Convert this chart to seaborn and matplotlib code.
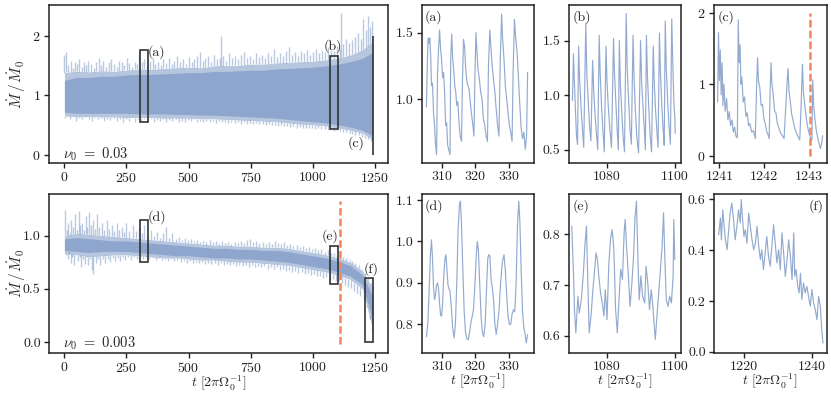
import numpy as np
import seaborn as sns
import matplotlib.pyplot as plt
from matplotlib.patches import Rectangle

# ---------------- main panels: band ----------------
band_t = [0, 50, 100, 150, 200, 250, 300, 350, 400, 450, 500, 550, 600,
          650, 700, 750, 800, 850, 900, 950, 1000, 1050, 1100, 1150, 1200, 1243]

top_core_hi = [1.25, 1.30, 1.30, 1.32, 1.32, 1.34, 1.35, 1.35, 1.36, 1.37, 1.38, 1.38, 1.40,
               1.40, 1.41, 1.42, 1.42, 1.44, 1.45, 1.46, 1.47, 1.49, 1.52, 1.56, 1.62, 1.72]
top_core_lo = [0.72, 0.70, 0.70, 0.70, 0.70, 0.70, 0.69, 0.69, 0.69, 0.68, 0.68, 0.67, 0.67,
               0.66, 0.65, 0.64, 0.63, 0.62, 0.60, 0.58, 0.56, 0.54, 0.51, 0.47, 0.42, 0.32]
top_out_hi = [1.38, 1.40, 1.39, 1.41, 1.40, 1.42, 1.44, 1.43, 1.45, 1.46, 1.47, 1.46, 1.49,
              1.50, 1.50, 1.52, 1.52, 1.54, 1.55, 1.56, 1.57, 1.59, 1.62, 1.67, 1.76, 1.90]
top_out_lo = [0.66, 0.64, 0.65, 0.64, 0.64, 0.63, 0.63, 0.63, 0.62, 0.62, 0.62, 0.61, 0.61,
              0.60, 0.59, 0.58, 0.57, 0.56, 0.54, 0.52, 0.51, 0.49, 0.46, 0.42, 0.37, 0.26]

top_spikes = [(0, 1.68), (8, 1.72), (16, 1.50), (25, 1.58), (33, 1.46), (42, 1.55), (50, 1.52),
              (60, 1.60), (70, 1.48), (78, 1.56), (88, 1.50), (97, 1.58), (108, 1.52), (118, 1.46),
              (127, 1.56), (138, 1.62), (148, 1.50), (157, 1.58), (168, 1.47), (178, 1.55),
              (188, 1.60), (198, 1.52), (210, 1.48), (220, 1.58), (230, 1.55), (242, 1.50),
              (252, 1.62), (262, 1.54), (272, 1.48), (283, 1.56), (293, 1.52), (302, 1.72),
              (312, 1.55), (322, 1.60), (333, 1.50), (345, 1.58), (355, 1.62), (366, 1.52),
              (376, 1.56), (388, 1.50), (398, 1.60), (410, 1.54), (420, 1.62), (432, 1.52),
              (442, 1.58), (455, 1.66), (466, 1.55), (478, 1.60), (488, 1.52), (500, 1.64),
              (512, 1.56), (522, 1.60), (535, 1.66), (546, 1.72), (558, 1.58), (568, 1.62),
              (580, 1.65), (592, 1.56), (603, 1.68), (615, 1.60), (626, 1.62), (632, 2.00),
              (640, 1.66), (652, 1.58), (664, 1.70), (676, 1.62), (688, 1.66), (700, 1.60),
              (712, 1.68), (724, 1.72), (736, 1.62), (748, 1.66), (760, 1.60), (772, 1.70),
              (784, 1.64), (796, 1.68), (808, 1.62), (820, 1.70), (832, 1.66), (845, 1.78),
              (856, 1.64), (868, 1.70), (880, 1.66), (892, 1.74), (904, 1.80), (916, 1.68),
              (928, 1.72), (940, 1.66), (952, 1.74), (964, 1.70), (976, 1.76), (988, 1.68),
              (1000, 1.72), (1012, 1.78), (1024, 1.70), (1036, 1.74), (1048, 1.72), (1060, 1.80),
              (1072, 1.76), (1084, 1.74), (1096, 1.82), (1108, 1.78), (1115, 2.38), (1122, 1.85),
              (1134, 1.95), (1146, 1.88), (1158, 1.92), (1170, 1.98), (1182, 2.05), (1194, 1.95),
              (1204, 2.28), (1214, 2.10), (1222, 2.32), (1230, 2.15), (1238, 2.25)]
top_dips = [(4, 0.62), (14, 0.66), (24, 0.60), (36, 0.64), (48, 0.58), (60, 0.62), (72, 0.60),
            (85, 0.64), (98, 0.60), (110, 0.58), (122, 0.62), (135, 0.60), (148, 0.63), (160, 0.58),
            (172, 0.61), (185, 0.59), (198, 0.63), (210, 0.58), (222, 0.61), (235, 0.56), (248, 0.60),
            (260, 0.58), (272, 0.62), (285, 0.55), (298, 0.60), (310, 0.58), (322, 0.61), (335, 0.57),
            (348, 0.60), (360, 0.56), (372, 0.59), (385, 0.57), (398, 0.60), (410, 0.55), (422, 0.59),
            (435, 0.57), (448, 0.60), (460, 0.56), (472, 0.58), (485, 0.55), (498, 0.59), (510, 0.57),
            (522, 0.60), (535, 0.56), (548, 0.58), (560, 0.55), (572, 0.58), (585, 0.56), (598, 0.57),
            (610, 0.54), (622, 0.57), (635, 0.55), (648, 0.56), (660, 0.54), (672, 0.56), (685, 0.54),
            (698, 0.55), (710, 0.53), (722, 0.55), (735, 0.53), (748, 0.54), (760, 0.52), (772, 0.54),
            (785, 0.52), (798, 0.53), (810, 0.51), (822, 0.52), (835, 0.50), (848, 0.51), (860, 0.49),
            (872, 0.50), (885, 0.48), (898, 0.49), (910, 0.47), (922, 0.48), (935, 0.46), (948, 0.47),
            (960, 0.46), (972, 0.46), (985, 0.45), (998, 0.46), (1010, 0.44), (1022, 0.45),
            (1035, 0.43), (1048, 0.44), (1060, 0.42), (1072, 0.43), (1085, 0.41), (1098, 0.42),
            (1110, 0.40), (1122, 0.39), (1135, 0.38), (1148, 0.37), (1160, 0.36), (1172, 0.34),
            (1185, 0.33), (1198, 0.31), (1210, 0.29), (1222, 0.27), (1234, 0.24)]

bot_core_hi = [0.97, 0.98, 0.97, 0.96, 0.95, 0.95, 0.94, 0.93, 0.92, 0.91, 0.90, 0.89, 0.88,
               0.88, 0.87, 0.87, 0.86, 0.86, 0.85, 0.83, 0.81, 0.79, 0.76, 0.72, 0.63, 0.42]
bot_core_lo = [0.86, 0.85, 0.84, 0.85, 0.85, 0.85, 0.84, 0.83, 0.82, 0.81, 0.81, 0.80, 0.79,
               0.79, 0.78, 0.78, 0.77, 0.76, 0.75, 0.73, 0.71, 0.69, 0.66, 0.62, 0.54, 0.20]
bot_out_hi = [1.00, 1.02, 1.01, 1.00, 0.99, 0.98, 0.97, 0.96, 0.95, 0.94, 0.93, 0.92, 0.91,
              0.91, 0.90, 0.90, 0.89, 0.89, 0.88, 0.86, 0.84, 0.82, 0.79, 0.75, 0.67, 0.50]
bot_out_lo = [0.83, 0.82, 0.80, 0.81, 0.82, 0.82, 0.81, 0.80, 0.79, 0.79, 0.78, 0.77, 0.77,
              0.76, 0.75, 0.75, 0.74, 0.73, 0.72, 0.70, 0.68, 0.66, 0.63, 0.59, 0.50, 0.10]

bot_spikes = [(3, 1.24), (10, 1.05), (16, 1.12), (22, 1.02), (28, 1.15), (36, 1.08), (44, 1.20),
              (50, 1.05), (57, 1.23), (64, 1.10), (72, 1.12), (80, 1.05), (86, 1.18), (93, 1.08),
              (100, 1.22), (108, 1.10), (116, 1.15), (124, 1.06), (131, 1.20), (140, 1.08),
              (150, 1.12), (160, 1.05), (170, 1.15), (180, 1.06), (190, 1.10), (200, 1.04),
              (210, 1.12), (220, 1.05), (230, 1.08), (240, 1.03), (250, 1.12), (262, 1.04),
              (275, 1.10), (288, 1.04), (300, 1.08), (312, 1.02), (322, 1.10), (335, 1.00),
              (348, 1.05), (360, 1.00), (372, 1.03), (385, 0.98), (398, 1.02), (410, 1.08),
              (422, 0.98), (435, 1.02), (448, 0.97), (460, 0.99), (472, 0.96), (485, 0.98),
              (498, 0.96), (510, 0.97), (522, 0.95), (535, 0.96), (548, 0.94), (560, 0.95),
              (572, 0.94), (585, 0.96), (598, 0.94), (610, 0.95), (622, 0.93), (635, 0.95),
              (648, 0.93), (660, 0.94), (672, 0.92), (685, 0.94), (698, 0.93), (710, 0.95),
              (722, 0.93), (735, 0.96), (748, 0.97), (760, 0.94), (772, 0.95), (785, 0.93),
              (798, 0.94), (810, 0.92), (822, 0.94), (835, 0.92), (848, 0.95), (860, 0.93),
              (872, 0.92), (885, 0.94), (898, 0.91), (910, 0.92), (922, 0.90), (935, 0.91),
              (948, 0.89), (960, 0.90), (972, 0.88), (985, 0.89), (998, 0.87), (1010, 0.88),
              (1022, 0.86), (1035, 0.87), (1048, 0.85), (1060, 0.86), (1072, 0.84), (1085, 0.84),
              (1098, 0.82), (1110, 0.82), (1122, 0.80), (1135, 0.79), (1148, 0.77), (1160, 0.76),
              (1172, 0.74), (1185, 0.72), (1198, 0.69), (1210, 0.65), (1222, 0.60), (1234, 0.55)]
bot_dips = [(6, 0.82), (13, 0.78), (19, 0.85), (25, 0.74), (32, 0.80), (40, 0.72), (47, 0.82),
            (54, 0.76), (61, 0.80), (68, 0.70), (76, 0.78), (83, 0.73), (90, 0.80), (97, 0.72),
            (104, 0.78), (112, 0.68), (117, 0.64), (128, 0.74), (136, 0.78), (145, 0.72),
            (155, 0.78), (165, 0.74), (175, 0.78), (185, 0.75), (195, 0.79), (205, 0.76),
            (215, 0.79), (225, 0.76), (235, 0.80), (245, 0.77), (256, 0.80), (268, 0.77),
            (280, 0.80), (294, 0.78), (306, 0.80), (318, 0.78), (330, 0.80), (342, 0.78),
            (355, 0.79), (368, 0.77), (380, 0.79), (392, 0.77), (405, 0.78), (418, 0.76),
            (430, 0.78), (442, 0.76), (455, 0.77), (468, 0.75), (480, 0.76), (492, 0.74),
            (505, 0.76), (518, 0.74), (530, 0.75), (542, 0.74), (555, 0.75), (568, 0.73),
            (580, 0.74), (592, 0.73), (605, 0.74), (618, 0.72), (630, 0.74), (642, 0.72),
            (655, 0.73), (668, 0.72), (680, 0.73), (692, 0.71), (705, 0.72), (718, 0.71),
            (730, 0.72), (742, 0.70), (755, 0.72), (768, 0.70), (780, 0.71), (792, 0.70),
            (805, 0.71), (818, 0.69), (830, 0.70), (842, 0.69), (855, 0.70), (868, 0.68),
            (880, 0.69), (892, 0.67), (905, 0.68), (918, 0.66), (930, 0.67), (942, 0.65),
            (955, 0.66), (968, 0.64), (980, 0.65), (992, 0.63), (1005, 0.64), (1018, 0.62),
            (1030, 0.62), (1042, 0.60), (1055, 0.61), (1068, 0.58), (1080, 0.59), (1092, 0.57),
            (1105, 0.57), (1118, 0.55), (1130, 0.54), (1142, 0.52), (1155, 0.51), (1168, 0.48),
            (1180, 0.46), (1192, 0.43), (1205, 0.40), (1218, 0.34), (1230, 0.25), (1240, 0.10)]

# zoom boxes on the main panels: label, t0, t1, y0, y1
top_boxes = [("(a)", 305, 335.5, 0.55, 1.75), ("(b)", 1069, 1100, 0.445, 1.65),
             ("(c)", 1241, 1243.4, 0.0, 2.0)]
bot_boxes = [("(d)", 305, 335.5, 0.755, 1.15), ("(e)", 1069, 1100, 0.547, 0.90),
             ("(f)", 1212, 1243.4, 0.0, 0.60)]

# ---------------- zoom windows ----------------
a_t = [305.5, 305.8, 306.0, 306.3, 306.5, 306.8, 307.0, 307.3, 307.6, 307.9, 308.2, 308.5,
       308.8, 309.1, 309.4, 309.7, 310.0, 310.3, 310.6, 310.9, 311.2, 311.5, 311.8, 312.5,
       312.7, 313.0, 313.3, 313.6, 313.9, 314.2, 314.5, 314.8, 315.1, 315.5, 315.9,
       316.2, 316.5, 316.8, 317.1, 317.4, 317.8, 318.1, 318.5, 318.8, 319.2, 319.6,
       319.9, 320.2, 320.5, 320.8, 321.2, 321.6, 322.0, 322.4, 322.8, 323.2, 323.6,
       323.9, 324.3, 324.6, 325.0, 325.4, 325.8, 326.2, 326.6, 327.0,
       327.4, 327.8, 328.1, 328.5, 328.9, 329.3, 329.7, 330.1, 330.5, 330.9,
       331.2, 331.6, 332.0, 332.4, 332.8, 333.2, 333.6, 334.0, 334.4, 334.8, 335.2, 335.5]
a_v = [0.94, 1.30, 1.46, 1.42, 1.46, 1.30, 1.10, 1.12, 0.90, 0.80, 0.66, 0.58,
       1.20, 1.38, 1.52, 1.38, 1.30, 1.16, 1.20, 1.05, 0.80, 0.82, 0.65, 0.58,
       1.30, 1.49, 1.30, 1.22, 1.10, 1.05, 0.95, 0.98, 0.85, 0.72, 0.68,
       1.15, 1.45, 1.40, 1.25, 1.15, 1.10, 1.08, 0.98, 0.90, 0.82, 0.72,
       1.20, 1.50, 1.35, 1.22, 1.15, 1.05, 1.00, 0.85, 0.80, 0.72, 0.68,
       1.25, 1.52, 1.40, 1.25, 1.15, 1.05, 0.92, 0.80, 0.72,
       1.30, 1.64, 1.45, 1.30, 1.10, 1.00, 0.90, 0.80, 0.75, 0.68,
       1.20, 1.60, 1.45, 1.35, 1.15, 0.95, 0.78, 0.70, 0.75, 0.62, 0.72, 1.20]

b_t = [1070.0, 1070.3, 1070.6, 1070.9, 1071.2, 1071.5,
       1071.8, 1072.1, 1072.5, 1072.9, 1073.3,
       1073.9, 1074.2, 1074.6, 1075.0, 1075.4,
       1075.9, 1076.2, 1076.6, 1077.0, 1077.4,
       1077.8, 1078.1, 1078.5, 1078.9, 1079.3,
       1079.8, 1080.1, 1080.5, 1080.9, 1081.4,
       1082.0, 1082.3, 1082.7, 1083.1, 1083.4,
       1083.7, 1084.0, 1084.4, 1084.8, 1085.2,
       1085.7, 1086.0, 1086.4, 1086.8, 1087.2,
       1087.7, 1088.0, 1088.4, 1088.8, 1089.3,
       1089.9, 1090.2, 1090.6, 1091.0, 1091.3,
       1091.6, 1091.9, 1092.3, 1092.7, 1093.1,
       1093.6, 1093.9, 1094.3, 1094.7, 1095.0,
       1095.4, 1095.7, 1096.1, 1096.5, 1096.8,
       1097.1, 1097.4, 1097.8, 1098.2, 1098.6,
       1099.0, 1099.3, 1099.6, 1099.9, 1100.0]
b_v = [0.95, 1.38, 1.10, 0.85, 0.62, 0.55,
       1.45, 1.15, 0.90, 0.70, 0.52,
       1.66, 1.20, 0.95, 0.72, 0.58,
       1.32, 1.05, 0.82, 0.65, 0.50,
       1.55, 1.20, 0.90, 0.68, 0.48,
       1.45, 1.12, 0.88, 0.70, 0.52,
       1.52, 1.18, 0.92, 0.66, 0.50,
       1.50, 1.10, 0.85, 0.62, 0.48,
       1.75, 1.25, 0.95, 0.70, 0.55,
       1.55, 1.15, 0.85, 0.62, 0.47,
       1.50, 1.12, 0.90, 0.68, 0.50,
       1.55, 1.18, 0.88, 0.62, 0.48,
       1.45, 1.10, 0.85, 0.65, 0.52,
       1.57, 1.20, 0.90, 0.68, 0.54,
       1.68, 1.25, 0.95, 0.72, 0.55,
       1.70, 1.30, 0.95, 0.80, 0.65]

c_t = [1240.96, 1240.98, 1241.00, 1241.02, 1241.04, 1241.06, 1241.08, 1241.10, 1241.13,
       1241.16, 1241.19, 1241.22, 1241.25, 1241.28, 1241.31, 1241.34, 1241.37, 1241.40,
       1241.42, 1241.44, 1241.46, 1241.48, 1241.50, 1241.53, 1241.56, 1241.59, 1241.62,
       1241.65, 1241.68, 1241.72, 1241.76, 1241.80,
       1241.83, 1241.85, 1241.87, 1241.90, 1241.93, 1241.96, 1241.99, 1242.02, 1242.05,
       1242.08, 1242.11,
       1242.13, 1242.15, 1242.17, 1242.20, 1242.23, 1242.26, 1242.29, 1242.32, 1242.36,
       1242.40, 1242.44,
       1242.48, 1242.51, 1242.53, 1242.55, 1242.58, 1242.61, 1242.64, 1242.67, 1242.71,
       1242.75, 1242.79,
       1242.82, 1242.85, 1242.87, 1242.90, 1242.93, 1242.96, 1242.99, 1243.03, 1243.06,
       1243.08, 1243.10, 1243.13, 1243.16, 1243.20, 1243.25, 1243.28, 1243.30]
c_v = [0.75, 1.72, 1.05, 1.48, 0.85, 1.30, 0.70, 1.00, 0.62,
       0.80, 0.50, 0.62, 0.42, 0.50, 0.33, 0.40, 0.27, 0.25,
       1.90, 1.30, 1.55, 1.00, 1.10, 0.75, 0.82, 0.55, 0.60,
       0.42, 0.45, 0.33, 0.35, 0.24,
       1.00, 1.37, 1.05, 0.95, 0.70, 0.72, 0.52, 0.45, 0.35,
       0.30, 0.24,
       0.90, 1.30, 1.00, 0.85, 0.62, 0.60, 0.45, 0.40, 0.32,
       0.28, 0.24,
       0.70, 1.05, 1.22, 0.90, 0.75, 0.58, 0.50, 0.40, 0.33,
       0.27, 0.22,
       0.70, 1.28, 0.90, 0.72, 0.55, 0.42, 0.33, 0.25, 0.22,
       1.06, 0.70, 0.50, 0.35, 0.22, 0.10, 0.18, 0.28]

d_t = [305.5, 305.9, 306.3, 306.7, 307.0, 307.3, 307.6, 307.9, 308.2, 308.5, 308.8, 309.1,
       309.4, 309.7, 310.0, 310.3, 310.6, 311.0, 311.3, 311.6, 311.9, 312.2, 312.5, 312.9,
       313.3, 313.7, 314.1, 314.5, 314.9, 315.3, 315.6, 315.9, 316.3, 316.7, 317.1, 317.5,
       317.9, 318.3, 318.7, 319.1, 319.5, 319.9, 320.3, 320.6, 320.9, 321.3, 321.7, 322.1,
       322.5, 322.9, 323.3, 323.7, 324.0, 324.3, 324.7, 325.0, 325.4, 325.8, 326.2, 326.6,
       327.0, 327.5, 328.0, 328.5, 328.9, 329.3, 329.7, 330.1, 330.5, 330.9, 331.3, 331.7,
       332.1, 332.5, 332.9, 333.2, 333.6, 334.0, 334.4, 334.8, 335.1, 335.5]
d_v = [0.770, 0.800, 0.880, 0.970, 1.004, 0.960, 0.890, 0.860, 0.870, 0.895, 0.900, 0.885,
       0.850, 0.822, 0.820, 0.850, 0.910, 0.960, 0.968, 0.930, 0.895, 0.885, 0.880, 0.840,
       0.790, 0.767, 0.800, 0.900, 1.030, 1.090, 1.097, 1.040, 0.930, 0.830, 0.780, 0.765,
       0.763, 0.780, 0.805, 0.820, 0.840, 0.900, 0.970, 1.000, 0.980, 0.900, 0.820, 0.780,
       0.770, 0.800, 0.880, 0.960, 0.968, 0.965, 0.905, 0.892, 0.860, 0.800, 0.776, 0.800,
       0.830, 0.900, 0.950, 0.968, 0.930, 0.870, 0.820, 0.800, 0.800, 0.825, 0.835, 0.830,
       0.900, 1.040, 1.097, 1.050, 0.930, 0.830, 0.790, 0.775, 0.755, 0.775]

e_t = [1069.8, 1070.3, 1070.6, 1071.0, 1071.6, 1072.0, 1072.6, 1073.2, 1073.7, 1074.1,
       1074.5, 1074.9, 1075.5, 1075.9, 1076.5, 1076.9, 1077.3, 1077.7, 1078.2, 1078.7,
       1079.2, 1079.6, 1080.1, 1080.6, 1081.1, 1081.6, 1082.1, 1082.6, 1083.1, 1083.6,
       1084.1, 1084.6, 1085.1, 1085.4, 1085.8, 1086.4, 1086.8, 1087.3, 1087.8, 1088.3,
       1088.7, 1089.1, 1089.5, 1090.0, 1090.5, 1091.1, 1091.5, 1092.0, 1092.5, 1093.0,
       1093.4, 1093.9, 1094.2, 1094.6, 1095.2, 1095.7, 1096.2, 1096.6, 1097.0, 1097.4,
       1097.9, 1098.4, 1098.9, 1099.4, 1099.6, 1099.9]
e_v = [0.816, 0.724, 0.652, 0.606, 0.678, 0.645, 0.671, 0.724, 0.783, 0.816,
       0.704, 0.606, 0.645, 0.685, 0.731, 0.763, 0.750, 0.718, 0.685, 0.665,
       0.639, 0.691, 0.632, 0.737, 0.790, 0.809, 0.770, 0.652, 0.606, 0.671,
       0.731, 0.711, 0.803, 0.829, 0.777, 0.711, 0.658, 0.698, 0.750, 0.836,
       0.865, 0.757, 0.671, 0.718, 0.678, 0.665, 0.737, 0.704, 0.652, 0.691,
       0.665, 0.619, 0.593, 0.632, 0.685, 0.731, 0.777, 0.842, 0.750, 0.671,
       0.658, 0.678, 0.665, 0.718, 0.829, 0.750]

f_t = [1212.4, 1212.9, 1213.2, 1213.6, 1214.0, 1214.4, 1214.9, 1215.3, 1215.8, 1216.3,
       1216.8, 1217.3, 1217.8, 1218.3, 1218.8, 1219.1, 1219.5, 1219.9, 1220.3, 1220.8,
       1221.3, 1221.8, 1222.3, 1222.8, 1223.3, 1223.8, 1224.3, 1224.8, 1225.2, 1225.7,
       1226.2, 1226.7, 1227.2, 1227.7, 1228.2, 1228.7, 1229.2, 1229.7, 1230.2, 1230.7,
       1231.2, 1231.7, 1232.2, 1232.7, 1233.2, 1233.7, 1234.2, 1234.7, 1235.0, 1235.4,
       1235.9, 1236.3, 1236.7, 1237.1, 1237.6, 1238.1, 1238.6, 1239.1, 1239.6, 1240.1,
       1240.6, 1241.1, 1241.6, 1242.1, 1242.6, 1243.1, 1243.4]
f_v = [0.461, 0.527, 0.441, 0.559, 0.494, 0.441, 0.402, 0.468, 0.546, 0.585,
       0.520, 0.441, 0.494, 0.559, 0.507, 0.599, 0.520, 0.454, 0.481, 0.428,
       0.546, 0.494, 0.441, 0.402, 0.428, 0.494, 0.415, 0.363, 0.402, 0.324,
       0.389, 0.454, 0.376, 0.337, 0.415, 0.500, 0.428, 0.350, 0.402, 0.324,
       0.468, 0.389, 0.297, 0.363, 0.441, 0.376, 0.284, 0.468, 0.297, 0.324,
       0.258, 0.232, 0.310, 0.206, 0.271, 0.232, 0.258, 0.219, 0.180, 0.245,
       0.193, 0.167, 0.127, 0.219, 0.180, 0.075, 0.035]

sns.set_theme(style="ticks")
plt.rcParams.update({
    "font.family": "cmr10",
    "mathtext.fontset": "cm",
    "axes.formatter.use_mathtext": True,
    "axes.unicode_minus": False,
    "font.size": 10,
    "axes.edgecolor": "#222222",
    "axes.linewidth": 1.1,
    "xtick.color": "#222222",
    "ytick.color": "#222222",
    "xtick.major.size": 3.5,
    "ytick.major.size": 3.5,
})

blue = sns.color_palette("deep")[0]
orange = "#F5855F"
boxc = "#333333"
dash = (0, (3, 1.3))
ylab = r"$\dot{M}\,/\,\dot{M}_0$"
xlab = r"$t\ [2\pi\Omega_0^{-1}]$"

fig = plt.figure(figsize=(8.31, 3.95), dpi=100)
W, H = 831, 395


def pax(x0, y0, x1, y1):
    return fig.add_axes([x0 / W, 1 - y1 / H, (x1 - x0) / W, (y1 - y0) / H])


ax_top = pax(49, 5, 388, 163)
ax_bot = pax(49, 194, 388, 352.7)
cols = [(421.7, 534), (569, 681), (714, 826.7)]
ins_top = [pax(c[0], 5, c[1], 163) for c in cols]
ins_bot = [pax(c[0], 194, c[1], 352.7) for c in cols]


def draw_band(ax, out_hi, out_lo, core_hi, core_lo, spikes, dips):
    ax.fill_between(band_t, out_lo, out_hi, color=blue, alpha=0.4, lw=0)
    ax.fill_between(band_t, core_lo, core_hi, color=blue, alpha=0.38, lw=0)
    st, sv = zip(*spikes)
    dt, dv = zip(*dips)
    ax.vlines(st, np.interp(st, band_t, out_hi), sv, color=blue, alpha=0.38, lw=1.0)
    ax.vlines(dt, dv, np.interp(dt, band_t, out_lo), color=blue, alpha=0.38, lw=1.0)


def draw_boxes(ax, boxes):
    for lab, t0, t1, y0, y1 in boxes:
        ax.add_patch(Rectangle((t0, y0), t1 - t0, y1 - y0, fill=False, ec=boxc, lw=1.2, zorder=5))


# top main
draw_band(ax_top, top_out_hi, top_out_lo, top_core_hi, top_core_lo, top_spikes, top_dips)
draw_boxes(ax_top, top_boxes)
ax_top.text(337, 1.72, "(a)", ha="left", va="center", fontsize=10)
ax_top.text(1080, 1.70, "(b)", ha="center", va="bottom", fontsize=10)
ax_top.text(1210, 0.2, "(c)", ha="right", va="center", fontsize=10)
ax_top.set_xlim(-62, 1303)
ax_top.set_ylim(-0.13, 2.51)
ax_top.set_yticks([0, 1, 2])
ax_top.set_xticks([0, 250, 500, 750, 1000, 1250])
ax_top.set_ylabel(ylab, fontsize=11)
ax_top.yaxis.set_label_coords(-0.062, 0.5)
ax_top.text(0.04, 0.03, r"$\nu_0\ =\ 0.03$", transform=ax_top.transAxes, fontsize=10.5)

# bottom main
draw_band(ax_bot, bot_out_hi, bot_out_lo, bot_core_hi, bot_core_lo, bot_spikes, bot_dips)
draw_boxes(ax_bot, bot_boxes)
ax_bot.text(337, 1.17, "(d)", ha="left", va="center", fontsize=10)
ax_bot.text(1070, 0.93, "(e)", ha="center", va="bottom", fontsize=10)
ax_bot.text(1235, 0.62, "(f)", ha="center", va="bottom", fontsize=10)
ax_bot.set_xlim(-62, 1303)
ax_bot.set_ylim(-0.1, 1.39)
ax_bot.set_yticks([0.0, 0.5, 1.0])
ax_bot.set_yticklabels(["0.0", "0.5", "1.0"])
ax_bot.set_xticks([0, 250, 500, 750, 1000, 1250])
ax_bot.set_ylabel(ylab, fontsize=11)
ax_bot.yaxis.set_label_coords(-0.062, 0.5)
ax_bot.set_xlabel(xlab, fontsize=10, labelpad=-1)
ax_bot.text(0.04, 0.03, r"$\nu_0\ =\ 0.003$", transform=ax_bot.transAxes, fontsize=10.5)
ax_bot.vlines(1108, -0.02, 1.32, color=orange, lw=1.8, linestyles=dash)

# insets
ins_data = [(ins_top[0], a_t, a_v, "(a)"), (ins_top[1], b_t, b_v, "(b)"), (ins_top[2], c_t, c_v, "(c)"),
            (ins_bot[0], d_t, d_v, "(d)"), (ins_bot[1], e_t, e_v, "(e)"), (ins_bot[2], f_t, f_v, "(f)")]
for ax, tt, vv, lab in ins_data:
    sns.lineplot(x=tt, y=vv, ax=ax, color=blue, alpha=0.6, lw=0.85, sort=False, estimator=None)
    if lab == "(f)":
        ax.text(0.97, 0.97, lab, transform=ax.transAxes, ha="right", va="top", fontsize=10)
    else:
        ax.text(0.03, 0.97, lab, transform=ax.transAxes, ha="left", va="top", fontsize=10)

ia, ib, ic = ins_top
idd, ie, iff = ins_bot
ia.set_xlim(304.1, 337.4); ia.set_ylim(0.517, 1.709)
ia.set_xticks([310, 320, 330]); ia.set_yticks([1.0, 1.5]); ia.set_yticklabels(["1.0", "1.5"])
ib.set_xlim(1069.0, 1101.7); ib.set_ylim(0.378, 1.827)
ib.set_xticks([1080, 1100]); ib.set_yticks([0.5, 1.0, 1.5]); ib.set_yticklabels(["0.5", "1.0", "1.5"])
ic.set_xlim(1240.88, 1243.39); ic.set_ylim(-0.102, 2.107)
ic.set_xticks([1241, 1242, 1243]); ic.set_yticks([0, 1, 2])
ic.vlines(1243.02, 0, 2.0, color=orange, lw=1.8, linestyles=dash)
idd.set_xlim(304.1, 337.4); idd.set_ylim(0.7315, 1.1145)
idd.set_xticks([310, 320, 330]); idd.set_yticks([0.8, 0.9, 1.0, 1.1])
idd.set_yticklabels(["0.8", "0.9", "1.0", "1.1"])
ie.set_xlim(1069.0, 1101.7); ie.set_ylim(0.567, 0.879)
ie.set_xticks([1080, 1100]); ie.set_yticks([0.6, 0.7, 0.8]); ie.set_yticklabels(["0.6", "0.7", "0.8"])
iff.set_xlim(1211.0, 1244.5); iff.set_ylim(-0.003, 0.621)
iff.set_xticks([1220, 1240]); iff.set_yticks([0.0, 0.2, 0.4, 0.6])
iff.set_yticklabels(["0.0", "0.2", "0.4", "0.6"])
for ax in ins_top + ins_bot:
    ax.set_xticklabels([str(v) for v in ax.get_xticks().astype(int)])
for ax in ins_bot:
    ax.set_xlabel(xlab, fontsize=10, labelpad=-1)

for ax in [ax_top, ax_bot] + ins_top + ins_bot:
    ax.tick_params(labelsize=10, width=1.0, pad=2.5)

fig.savefig("out.png", dpi=100)
